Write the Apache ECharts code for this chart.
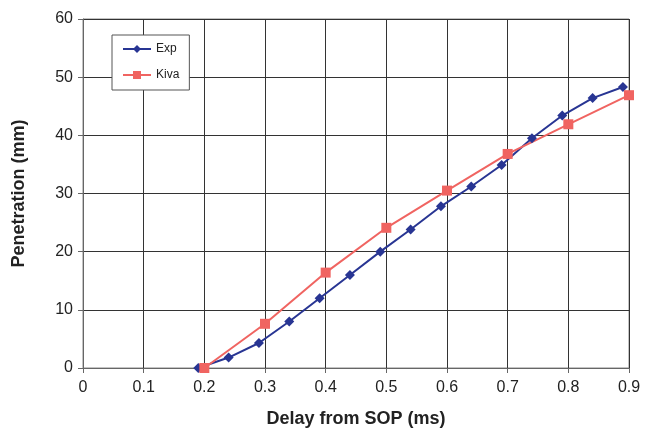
<!DOCTYPE html>
<html><head><meta charset="utf-8">
<script src="https://cdn.jsdelivr.net/npm/echarts@6/dist/echarts.min.js"></script>
<style>html,body{margin:0;padding:0;background:#fff}#c{width:646px;height:430px}</style>
</head><body><div id="c"></div>
<script>
const expX = [0.19, 0.24, 0.29, 0.34, 0.39, 0.44, 0.49, 0.54, 0.59, 0.64, 0.69, 0.74, 0.79, 0.84, 0.89];
const expY = [0, 1.8, 4.3, 8.0, 12.0, 16.0, 20.0, 23.8, 27.8, 31.2, 34.9, 39.5, 43.4, 46.4, 48.3];
const kivaX = [0.2, 0.3, 0.4, 0.5, 0.6, 0.7, 0.8, 0.9];
const kivaY = [0, 7.6, 16.4, 24.1, 30.5, 36.8, 41.9, 46.9];
const xTicks = [0, 0.1, 0.2, 0.3, 0.4, 0.5, 0.6, 0.7, 0.8, 0.9];
const yTicks = [0, 10, 20, 30, 40, 50, 60];

const chart = echarts.init(document.getElementById('c'), null, {renderer: 'canvas'});
const font = 'Liberation Sans, Arial, sans-serif';
const pair = (xs, ys) => xs.map((x, i) => [x, ys[i]]);
chart.setOption({
  animation: false,
  backgroundColor: '#fff',
  grid: {left: 83, right: 17, top: 19, bottom: 62, show: true, borderColor: '#888', borderWidth: 1,
         containLabel: false, outerBoundsMode: 'none'},
  legend: {
    left: 112, top: 35, orient: 'vertical', itemGap: 14,
    padding: [8, 10, 9, 10],
    borderColor: '#555', borderWidth: 1, backgroundColor: '#fff',
    itemWidth: 28, itemHeight: 10,
    textStyle: {fontFamily: font, fontSize: 12, color: '#222'},
    data: [{name: 'Exp'}, {name: 'Kiva'}]
  },
  xAxis: {
    type: 'value', min: xTicks[0], max: xTicks[xTicks.length - 1], interval: 0.1,
    name: 'Delay from SOP (ms)', nameLocation: 'middle', nameGap: 42,
    nameTextStyle: {fontFamily: font, fontSize: 18, fontWeight: 'bold', color: '#222'},
    axisLine: {lineStyle: {color: '#666'}},
    axisTick: {show: true, length: 5, lineStyle: {color: '#666'}},
    axisLabel: {fontFamily: font, fontSize: 16, color: '#222', margin: 12,
      formatter: v => String(Math.round(v * 10) / 10)},
    splitLine: {show: true, lineStyle: {color: '#333', width: 1}}
  },
  yAxis: {
    type: 'value', min: yTicks[0], max: yTicks[yTicks.length - 1], interval: 10,
    name: 'Penetration (mm)', nameLocation: 'middle', nameGap: 55, nameRotate: 90,
    nameTextStyle: {fontFamily: font, fontSize: 18, fontWeight: 'bold', color: '#222'},
    axisLine: {show: true, lineStyle: {color: '#666'}},
    axisTick: {show: true, length: 5, lineStyle: {color: '#666'}},
    axisLabel: {fontFamily: font, fontSize: 16, color: '#222', margin: 10},
    splitLine: {show: true, lineStyle: {color: '#333', width: 1}}
  },
  series: [
    {name: 'Exp', type: 'line', data: pair(expX, expY), symbol: 'diamond', symbolSize: 10,
     lineStyle: {color: '#283593', width: 2}, itemStyle: {color: '#283593'}},
    {name: 'Kiva', type: 'line', data: pair(kivaX, kivaY), symbol: 'rect', symbolSize: 10,
     lineStyle: {color: '#F06461', width: 2}, itemStyle: {color: '#F06461'}}
  ]
});
</script></body></html>
